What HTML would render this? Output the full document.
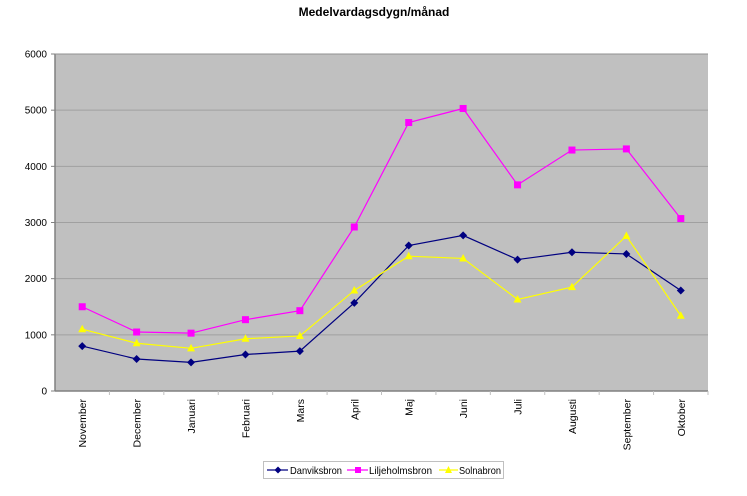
<!DOCTYPE html>
<html><head><meta charset="utf-8"><style>
html,body{margin:0;padding:0;background:#fff;width:747px;height:496px;overflow:hidden}
svg text{font-family:"Liberation Sans",Arial,sans-serif}
</style></head><body>
<svg id="chart" width="747" height="496" xmlns="http://www.w3.org/2000/svg">
<text x="374" y="16" text-anchor="middle" font-size="12" font-weight="bold">Medelvardagsdygn/månad</text>
<rect x="55" y="54" width="653" height="337" fill="#c0c0c0"/>
<g id="grid"></g><g id="axes"></g><g id="series"></g>
<g>
<rect x="263.5" y="461.5" width="240" height="17" fill="#fff" stroke="#c0c0c0"/>
<g><line x1="267" y1="470" x2="288" y2="470" stroke="#000080" stroke-width="1.2"/><path d="M278 466.5 L281.5 470 L278 473.5 L274.5 470Z" fill="#000080"/><text x="290" y="474" font-size="10.5" textLength="52" lengthAdjust="spacingAndGlyphs">Danviksbron</text></g>
<g><line x1="347" y1="470" x2="368" y2="470" stroke="#ff00ff" stroke-width="1.2"/><rect x="355" y="467" width="6" height="6" fill="#ff00ff"/><text x="369" y="474" font-size="10.5" textLength="63" lengthAdjust="spacingAndGlyphs">Liljeholmsbron</text></g>
<g><line x1="439" y1="470" x2="458" y2="470" stroke="#ffff00" stroke-width="1.2"/><path d="M448.5 466 L452 473 L445 473Z" fill="#ffff00"/><text x="459" y="474" font-size="10.5" textLength="42" lengthAdjust="spacingAndGlyphs">Solnabron</text></g>
</g>
</svg>
<script>
const categories=["November","December","Januari","Februari","Mars","April","Maj","Juni","Juli","Augusti","September","Oktober"];
const danviksbron=[800,570,510,650,710,1570,2590,2770,2340,2470,2440,1790];
const liljeholmsbron=[1500,1050,1030,1270,1430,2920,4780,5030,3670,4290,4310,3070];
const solnabron=[1100,850,760,930,980,1790,2400,2360,1630,1850,2760,1340];
const yTicks=[0,1000,2000,3000,4000,5000,6000];
const NS="http://www.w3.org/2000/svg";
const L=55,R=708,T=54,B=391,YMAX=6000;
const bw=(R-L)/categories.length;
function x(i){return L+bw*(i+0.5);}
function y(v){return B-(v/YMAX)*(B-T);}
function mk(tag,attrs,parent){const e=document.createElementNS(NS,tag);for(const k in attrs)e.setAttribute(k,attrs[k]);parent.appendChild(e);return e;}
const grid=document.getElementById('grid'),axes=document.getElementById('axes'),ser=document.getElementById('series');
yTicks.forEach(v=>{
  if(v>0){const g=mk('line',{x1:L,x2:R,y1:y(v),y2:y(v),stroke:'#a0a0a0','stroke-width':1},grid);
  
  }
  const t=mk('line',{x1:L-4,x2:L,y1:y(v),y2:y(v),stroke:'#808080'},axes);
  
  
  const tx=mk('text',{x:L-8,y:y(v)+3.5,'text-anchor':'end','font-size':'10'},axes);tx.textContent=v;
  
  
});
const ya=mk('line',{x1:L,x2:L,y1:T,y2:B,stroke:'#808080','stroke-width':1.5},axes);


const xa=mk('line',{x1:L,x2:R,y1:B,y2:B,stroke:'#808080','stroke-width':1.5},axes);


const tp=mk('line',{x1:L,x2:R,y1:T,y2:T,stroke:'#909090','stroke-width':1},axes);


categories.forEach((c,i)=>{
  const tk=mk('line',{x1:L+bw*(i+1),x2:L+bw*(i+1),y1:B,y2:B+4,stroke:'#c0c0c0'},axes);
  
  
  const tx=mk('text',{x:0,y:0,'text-anchor':'end','font-size':'10.5',transform:'translate('+(x(i)+4)+','+(B+8)+') rotate(-90)'},axes);tx.textContent=c;
  
  
});
function drawSeries(vals,color,marker,name){
  const g=mk('g',{},ser);
  
  
  const p=mk('polyline',{points:vals.map((v,i)=>x(i)+','+y(v)).join(' '),fill:'none',stroke:color,'stroke-width':1.2},g);
  
  
  vals.forEach((v,i)=>{
    const cx=x(i),cy=y(v);let m;
    if(marker==='d')m=mk('path',{d:`M${cx} ${cy-4}L${cx+4} ${cy}L${cx} ${cy+4}L${cx-4} ${cy}Z`,fill:color},g);
    else if(marker==='s')m=mk('rect',{x:cx-3.5,y:cy-3.5,width:7,height:7,fill:color},g);
    else m=mk('path',{d:`M${cx} ${cy-4.5}L${cx+4} ${cy+3}L${cx-4} ${cy+3}Z`,fill:color},g);
    
    
  });
}
drawSeries(danviksbron,'#000080','d','danviksbron');
drawSeries(liljeholmsbron,'#ff00ff','s','liljeholmsbron');
drawSeries(solnabron,'#ffff00','t','solnabron');
</script>
</body></html>
